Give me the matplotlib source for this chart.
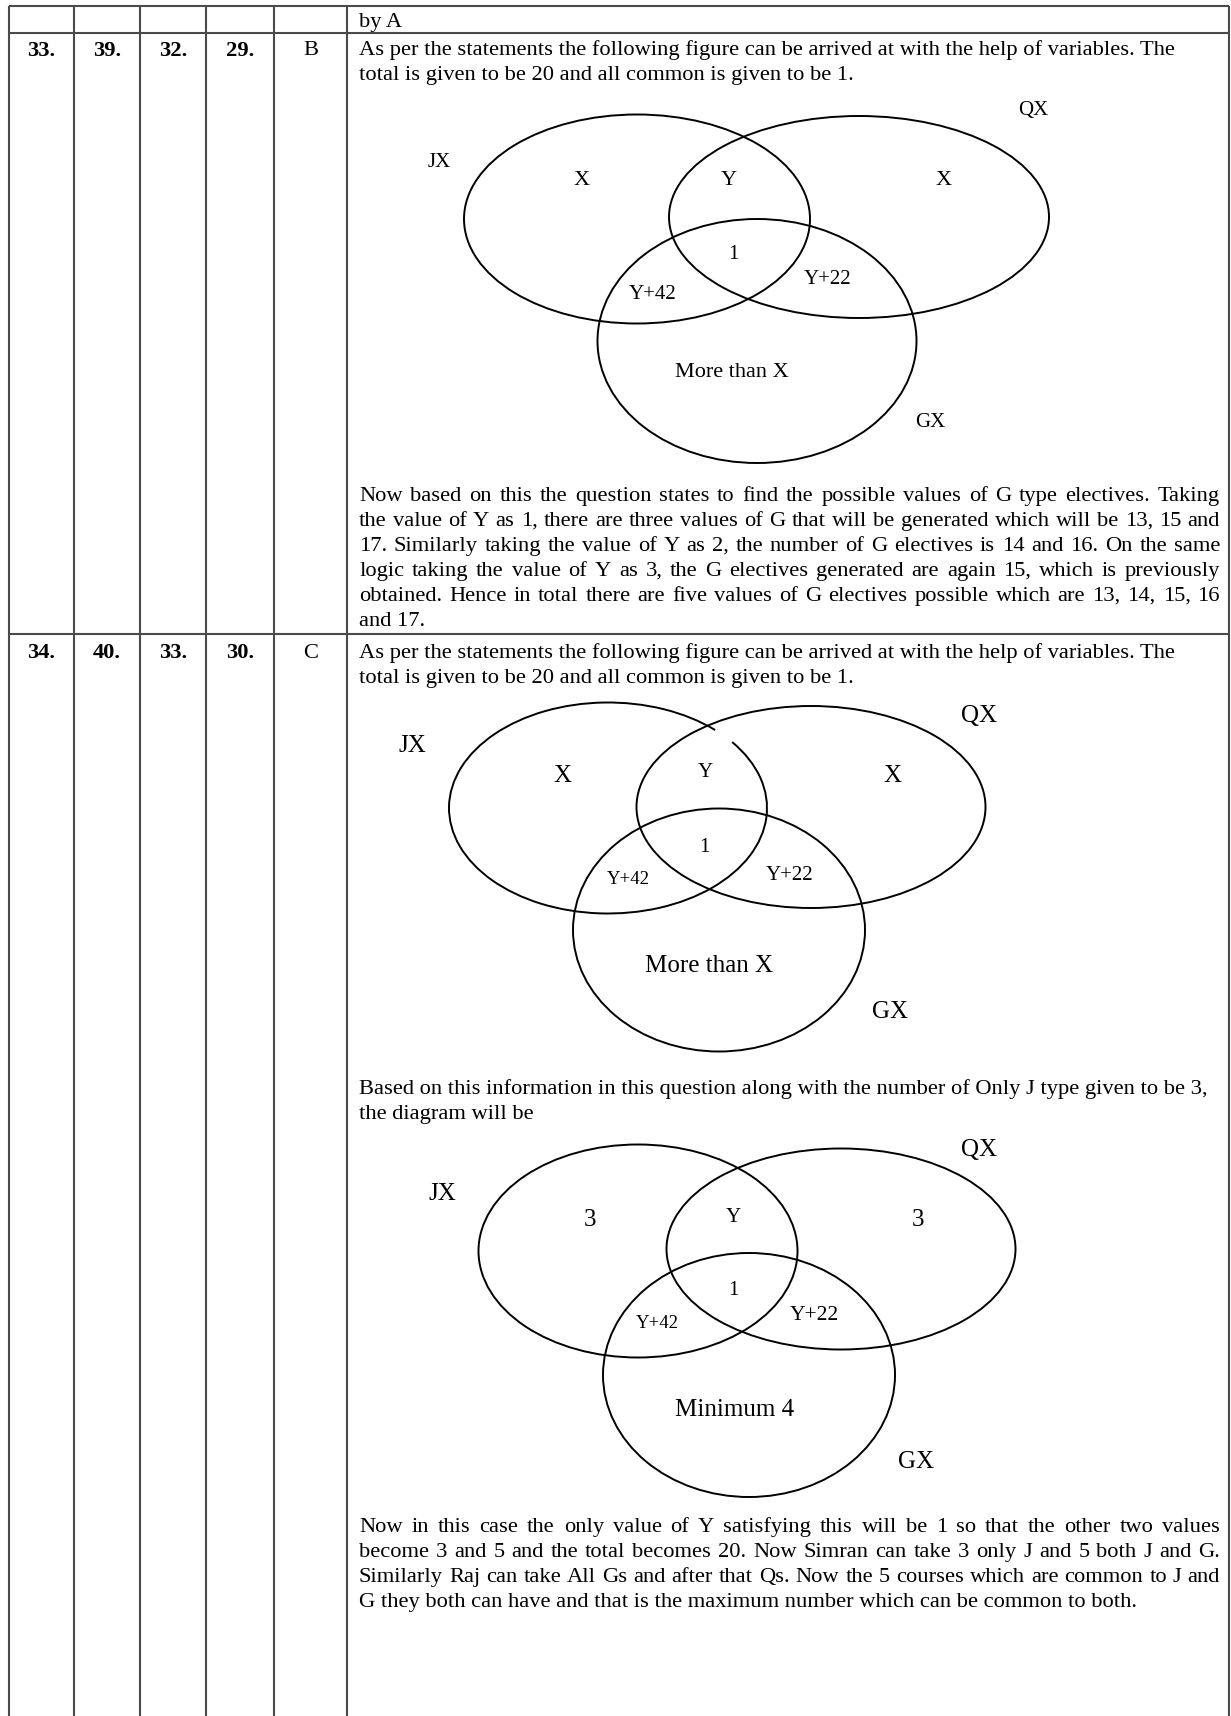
import matplotlib
matplotlib.use("Agg")
import matplotlib.pyplot as plt
from matplotlib.patches import Ellipse, Arc

W, H = 1231, 1716
DPI = 100
FONT = "Liberation Serif"
FS = 16.2        # body text size (pt)
LINE = 25.0      # line spacing (px)
TEXT_X0, TEXT_X1 = 359, 1220

# table grid
col_lines = [9, 74, 140, 206, 274, 347, 1229]
row_lines = [6, 33, 634]

# row labels
row_labels = [["33.", "39.", "32.", "29.", "B"],
              ["34.", "40.", "33.", "30.", "C"]]
row_label_y = [48, 651]

# text blocks
intro_lines = ["As per the statements the following figure can be arrived at with the help of variables. The",
               "total is given to be 20 and all common is given to be 1."]

para1_lines = ["Now based on this the question states to find the possible values of G type electives. Taking",
               "the value of Y as 1, there are three values of G that will be generated which will be 13, 15 and",
               "17. Similarly taking the value of Y as 2, the number of G electives is 14 and 16. On the same",
               "logic taking the value of Y as 3, the G electives generated are again 15, which is previously",
               "obtained. Hence in total there are five values of G electives possible which are 13, 14, 15, 16",
               "and 17."]

para2_lines = ["Based on this information in this question along with the number of Only J type given to be 3,",
               "the diagram will be"]

para3_lines = ["Now in this case the only value of Y satisfying this will be 1 so that the other two values",
               "become 3 and 5 and the total becomes 20. Now Simran can take 3 only J and 5 both J and G.",
               "Similarly Raj can take All Gs and after that Qs. Now the 5 courses which are common to J and",
               "G they both can have and that is the maximum number which can be common to both."]

# venn region labels
venn1_labels = ["QX", "JX", "X", "Y", "X", "1", "Y+42", "Y+22", "More than X", "GX"]
venn2_labels = ["QX", "JX", "X", "Y", "X", "1", "Y+42", "Y+22", "More than X", "GX"]
venn3_labels = ["QX", "JX", "3", "Y", "3", "1", "Y+42", "Y+22", "Minimum 4", "GX"]


fig = plt.figure(figsize=(W / DPI, H / DPI), dpi=DPI)
ax = fig.add_axes([0, 0, 1, 1])
ax.set_xlim(0, W)
ax.set_ylim(H, 0)
ax.axis("off")
renderer = fig.canvas.get_renderer()


def put_line(text, y, x0=TEXT_X0, x1=None, size=FS, weight="normal"):
    """Escribe una línea; si x1 se da, la justifica entre x0 y x1."""
    kw = dict(fontsize=size, family=FONT, weight=weight, va="center_baseline", color="black")
    if x1 is None:
        ax.text(x0, y, text, ha="left", **kw)
        return
    words = text.split()
    arts = [ax.text(0, y, w, ha="left", **kw) for w in words]
    widths = [a.get_window_extent(renderer).width for a in arts]
    gap = (x1 - x0 - sum(widths)) / (len(words) - 1)
    x = x0
    for a, w in zip(arts, widths):
        a.set_x(x)
        x += w + gap


def put_block(lines, y0, justify=False):
    for i, line in enumerate(lines):
        last = i == len(lines) - 1
        put_line(line, y0 + i * LINE, x1=TEXT_X1 if (justify and not last) else None)


def draw_venn(ellipses, labels, label_pos, label_size, gap=None):
    for k, (cx, cy, w, h) in enumerate(ellipses):
        if gap is not None and k == 0:
            # el círculo J tiene un pequeño corte arriba a la derecha
            ax.add_patch(Arc((cx, cy), w, h, theta1=-gap[0], theta2=360 - gap[1],
                             lw=1.4, color="black"))
        else:
            ax.add_patch(Ellipse((cx, cy), w, h, fill=False, lw=1.4, ec="black"))
    for txt, (x, y), s in zip(labels, label_pos, label_size):
        ax.text(x, y, txt, fontsize=s, family=FONT, ha="center", va="center_baseline")


# table
for x in col_lines:
    ax.plot([x, x], [row_lines[0], H], color="#4a4a4a", lw=1.5, solid_capstyle="butt")
for y in row_lines:
    ax.plot([col_lines[0], col_lines[-1]], [y, y], color="#4a4a4a", lw=1.5, solid_capstyle="butt")

col_centers = [(a + b) / 2 for a, b in zip(col_lines[:-2], col_lines[1:-1])]
for labels, y in zip(row_labels, row_label_y):
    for i, (lab, cx) in enumerate(zip(labels, col_centers)):
        ax.text(cx, y, lab, fontsize=FS, family=FONT, weight="bold" if i < 4 else "normal",
                ha="center", va="center_baseline")

put_line("by A", 20)

# row 33
put_block(intro_lines, 48)
draw_venn([(637, 219, 346, 209), (859, 217, 380, 202), (757, 341, 319, 244)],
          venn1_labels,
          [(1033, 108), (439, 160), (582, 178), (729, 178), (944, 178), (733, 252),
           (653, 292), (828, 277), (732, 370), (930, 420)],
          [15, 15, 16, 16, 16, 15, 15, 15, 16, 15])
put_block(para1_lines, 494, justify=True)

# row 34
put_block(intro_lines, 651)
draw_venn([(608, 808, 318, 211), (811, 807, 349, 202), (719, 930, 292, 243)],
          venn2_labels,
          [(979, 713), (412, 743), (562, 773), (705, 770), (892, 773), (704, 845),
           (628, 878), (790, 873), (709, 963), (890, 1010)],
          [18, 18, 18, 15, 18, 15, 13.5, 15, 18, 18],
          gap=(28, 36))
put_block(para2_lines, 1087)
draw_venn([(638, 1251, 319, 213), (841, 1249, 349, 201), (749, 1375, 292, 244)],
          venn3_labels,
          [(979, 1147), (442, 1192), (590, 1217), (733, 1215), (918, 1217), (733, 1288),
           (657, 1322), (814, 1313), (735, 1407), (916, 1459)],
          [18, 18, 18, 15, 18, 15, 13.5, 15.5, 18, 18])
put_block(para3_lines, 1525, justify=True)

fig.savefig("out.png", dpi=DPI, facecolor="white")
